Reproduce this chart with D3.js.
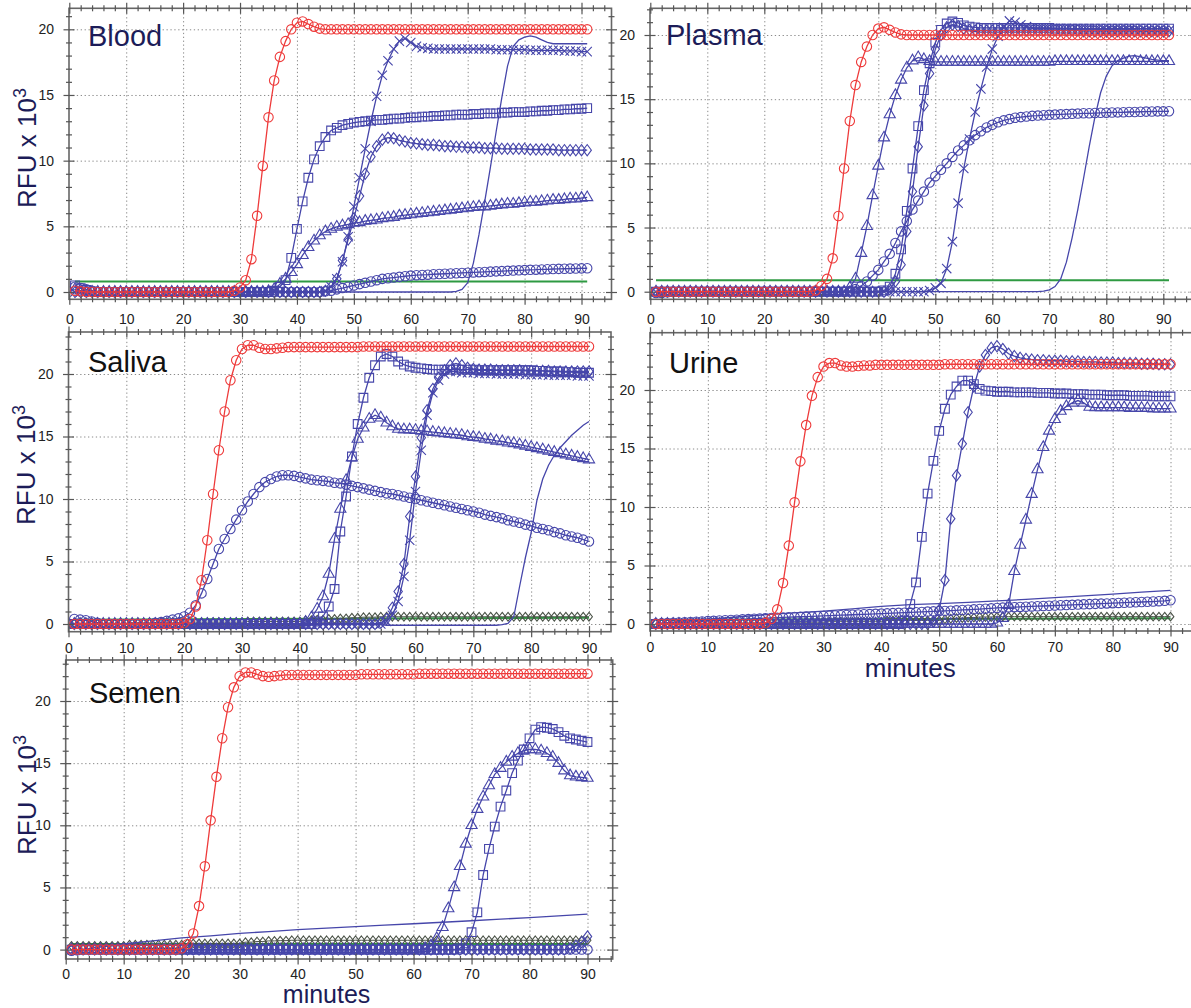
<!DOCTYPE html>
<html><head><meta charset="utf-8">
<script src="https://cdn.jsdelivr.net/npm/d3@7/dist/d3.min.js"></script>
<style>
body{margin:0;background:#fff;}
svg{display:block;font-family:"Liberation Sans",Arial,sans-serif;}
</style></head><body>
<svg id="c" width="1191" height="1008"></svg>
<script>
// ---------------- DATA (RFU x 10^3 at each minute) ----------------
const minutes91 = d3.range(1, 92);
const minutes90 = d3.range(1, 91);
const lineMinutes = [1,5,10,15,20,25,30,35,40,45,50,55,60,65,70,75,80,85,90];
const greenMinutes91 = [1, 91];
const greenMinutes90 = [1, 90];
const xTickValues = [0,10,20,30,40,50,60,70,80,90];
const yTickValues = [0,5,10,15,20];
const xGridValues = [10,20,30,40,50,60,70,80,90];
const yGridValues = [0,5,10,15,20];

// Blood
const bloodRed = [0.1,0.05,0,0,0,0,0,0,0,0, 0,0,0,0,0,0,0,0,0,0, 0,0,0,0,0,0,0,0,0.1,0.35,
 0.9,2.5,5.8,9.6,13.3,16.1,17.9,19.1,20.0,20.5, 20.6,20.4,20.2,20.05,20,20,20,20,20,20,
 20,20,20,20,20,20,20,20,20,20, 20,20,20,20,20,20,20,20,20,20, 20,20,20,20,20,20,20,20,20,20,
 20,20,20,20,20,20,20,20,20,20, 20];
const bloodSquare = [0.5,0.3,0.15,0.05,0,0,0,0,0,0, 0,0,0,0,0,0,0,0,0,0, 0,0,0,0,0,0,0,0,0,0,
 0,0,0,0,0,0.1,0.4,0.9,2.6,4.8, 6.9,8.7,10.1,11.1,11.8,12.3,12.5,12.7,12.8,12.9,
 12.95,13.0,13.05,13.1,13.1,13.15,13.2,13.2,13.25,13.3, 13.3,13.35,13.35,13.4,13.4,13.45,13.45,13.5,13.5,13.5,
 13.55,13.55,13.6,13.6,13.6,13.65,13.65,13.7,13.7,13.7, 13.75,13.75,13.8,13.8,13.85,13.85,13.9,13.9,13.95,13.95, 14.0];
const bloodTriangle = [0.2,0.1,0,0,0,0,0,0,0,0, 0,0,0,0,0,0,0,0,0,0, 0,0,0,0,0,0,0,0,0,0,
 0,0,0,0,0.05,0.2,0.6,1.0,1.5,2.1, 2.8,3.4,3.9,4.3,4.6,4.8,4.95,5.05,5.15,5.25,
 5.3,5.4,5.45,5.5,5.6,5.65,5.7,5.8,5.85,5.9, 5.95,6.0,6.05,6.1,6.15,6.2,6.25,6.3,6.35,6.4,
 6.45,6.5,6.5,6.55,6.6,6.65,6.7,6.7,6.75,6.8, 6.85,6.85,6.9,6.95,7.0,7.0,7.05,7.1,7.1,7.15, 7.2];
const bloodDiamond = [0,0,0,0,0,0,0,0,0,0, 0,0,0,0,0,0,0,0,0,0, 0,0,0,0,0,0,0,0,0,0, 0,0,0,0,0,0,0,0,0,0,
 0,0,0,0,0.1,0.4,1.0,2.4,4.0,5.6, 7.3,9.0,10.3,11.1,11.6,11.75,11.7,11.55,11.45,11.35,
 11.3,11.25,11.2,11.2,11.15,11.1,11.1,11.05,11.05,11.0, 11.0,11.0,10.95,10.95,10.95,10.9,10.9,10.9,10.9,10.9,
 10.85,10.85,10.85,10.85,10.85,10.8,10.8,10.8,10.8,10.8, 10.8];
const bloodCross = [0,0,0,0,0,0,0,0,0,0, 0,0,0,0,0,0,0,0,0,0, 0,0,0,0,0,0,0,0,0,0, 0,0,0,0,0,0,0,0,0,0,
 0,0,0,0,0.1,0.4,1.0,2.3,4.2,6.5, 8.7,10.9,13.0,14.9,16.5,17.6,18.5,19.1,19.3,19.0,
 18.7,18.6,18.55,18.5,18.5,18.5,18.5,18.5,18.5,18.5, 18.5,18.5,18.5,18.5,18.45,18.45,18.45,18.45,18.45,18.45,
 18.4,18.4,18.4,18.4,18.4,18.4,18.35,18.35,18.35,18.3, 18.3];
const bloodCircle = [0.4,0.3,0.2,0.1,0,0,0,0,0,0, 0,0,0,0,0,0,0,0,0,0, 0,0,0,0,0,0,0,0,0,0, 0,0,0,0,0,0,0,0,0,0,
 0,0,0,0,0.05,0.1,0.2,0.3,0.4,0.5, 0.6,0.7,0.8,0.9,1.0,1.05,1.1,1.15,1.2,1.25,
 1.28,1.3,1.32,1.35,1.37,1.39,1.41,1.43,1.45,1.47, 1.49,1.51,1.53,1.55,1.57,1.59,1.61,1.63,1.65,1.67,
 1.69,1.7,1.72,1.73,1.75,1.76,1.77,1.78,1.79,1.8, 1.81];
const bloodLine = [0,0,0,0,0,0,0,0,0,0, 0,0,0,0,0,0,0,0,0,0, 0,0,0,0,0,0,0,0,0,0, 0,0,0,0,0,0,0,0,0,0,
 0,0,0,0,0,0,0,0,0,0, 0,0,0,0,0,0,0,0,0,0, 0,0,0,0,0,0,0,0.05,0.2,0.7,
 2.2,4.4,6.9,9.5,12.2,14.8,17.2,18.7,19.2,19.4, 19.5,19.4,19.2,19.0,18.9,18.9,18.9,18.9,18.9,18.9, 18.9];
const bloodGreen = [0.8, 0.8];

// Plasma
const plasmaRed = [0,0,0,0,0,0,0,0,0,0, 0,0,0,0,0,0,0,0,0,0, 0,0,0,0,0,0,0,0,0.1,0.45,
 1.0,2.6,5.9,9.6,13.3,16.1,17.9,19.1,20.0,20.5, 20.6,20.4,20.2,20.05,20,20,20,20,20,20,
 20,20,20,20,20,20,20,20,20,20, 20,20,20,20,20,20,20,20,20,20, 20,20,20,20,20,20,20,20,20,20,
 20,20,20,20,20,20,20,20,20,20, 20];
const plasmaTriangle = [0,0,0,0,0,0,0,0,0,0, 0,0,0,0,0,0,0,0,0,0, 0,0,0,0,0,0,0,0,0,0,
 0,0,0,0,0.3,1.0,3.0,5.1,7.5,9.8, 12.0,13.8,15.3,16.5,17.45,18.0,18.25,18.1,17.95,17.9,
 17.9,17.9,17.9,17.9,17.9,17.9,17.9,17.9,17.9,17.9, 17.9,17.9,17.9,17.9,17.9,17.9,17.9,17.9,17.9,17.9,
 17.95,17.95,17.95,17.95,17.95,17.95,17.95,17.95,17.95,17.95, 17.95,17.95,17.95,17.95,17.95,17.95,17.95,17.95,17.95,17.95, 17.95];
const plasmaCircle = [-0.1,-0.1,-0.05,0,0,0,0,0,0,0, 0,0,0,0,0,0,0,0,0,0, 0,0,0,0,0,0,0,0,0,0,
 0,0,0,0,0.05,0.2,0.45,0.8,1.25,1.7, 2.35,2.95,3.8,4.7,5.5,6.4,7.1,7.8,8.5,9.0,
 9.5,10.0,10.5,11.0,11.4,11.8,12.2,12.5,12.8,13.0, 13.2,13.35,13.45,13.55,13.6,13.65,13.7,13.72,13.75,13.78,
 13.8,13.82,13.84,13.86,13.88,13.9,13.9,13.92,13.94,13.95, 13.96,13.97,13.98,14.0,14.0,14.02,14.03,14.04,14.05,14.05, 14.06];
const plasmaSquare = [0,0,0,0,0,0,0,0,0,0, 0,0,0,0,0,0,0,0,0,0, 0,0,0,0,0,0,0,0,0,0, 0,0,0,0,0,0,0,0,0,0,
 0.1,0.4,1.4,3.3,6.3,9.6,12.9,15.7,17.8,19.4, 20.4,20.9,21.05,20.95,20.75,20.65,20.6,20.55,20.55,20.55,
 20.55,20.55,20.55,20.55,20.55,20.55,20.55,20.55,20.55,20.55, 20.5,20.5,20.5,20.5,20.5,20.5,20.5,20.5,20.5,20.5,
 20.5,20.5,20.5,20.5,20.5,20.5,20.5,20.5,20.5,20.5, 20.5];
const plasmaDiamond = [0,0,0,0,0,0,0,0,0,0, 0,0,0,0,0,0,0,0,0,0, 0,0,0,0,0,0,0,0,0,0, 0,0,0,0,0,0,0,0,0,0,
 0,0.2,0.8,2.1,4.7,7.8,11.3,14.5,17.0,18.9, 20.0,20.6,20.8,20.7,20.5,20.4,20.35,20.35,20.35,20.35,
 20.35,20.35,20.35,20.35,20.35,20.35,20.35,20.35,20.35,20.35, 20.35,20.35,20.35,20.35,20.35,20.3,20.3,20.3,20.3,20.3,
 20.3,20.3,20.3,20.3,20.3,20.3,20.3,20.3,20.3,20.3, 20.3];
const plasmaCross = [0,0,0,0,0,0,0,0,0,0, 0,0,0,0,0,0,0,0,0,0, 0,0,0,0,0,0,0,0,0,0, 0,0,0,0,0,0,0,0,0,0,
 0,0,0,0,0,0,0,0,0.1,0.3, 0.65,1.8,3.9,6.9,9.6,11.9,14.0,15.8,17.5,18.9,
 19.9,20.6,21.1,21.0,20.8,20.65,20.55,20.5,20.5,20.5, 20.5,20.5,20.5,20.45,20.45,20.45,20.45,20.45,20.4,20.4,
 20.4,20.4,20.4,20.4,20.4,20.35,20.35,20.35,20.35,20.35, 20.35];
const plasmaLine = [0,0,0,0,0,0,0,0,0,0, 0,0,0,0,0,0,0,0,0,0, 0,0,0,0,0,0,0,0,0,0, 0,0,0,0,0,0,0,0,0,0,
 0,0,0,0,0,0,0,0,0,0, 0,0,0,0,0,0,0,0,0,0, 0,0,0,0,0,0,0,0,0.05,0.15,
 0.4,1.0,2.3,4.2,6.4,8.8,11.3,13.6,15.5,16.8, 17.6,18.0,18.2,18.35,18.4,18.3,18.2,18.1,18.05,18.0, 18.0];
const plasmaGreen = [0.9, 0.9];

// Saliva
const salivaRed = [0,0,0,0,0,0,0,0,0,0, 0,0,0,0,0,0,0,0,0,0.1, 0.4,1.4,3.5,6.7,10.4,13.9,17.0,19.5,21.1,22.0,
 22.3,22.3,22.1,22.0,22.0,22.05,22.1,22.15,22.15,22.15, 22.15,22.15,22.15,22.15,22.15,22.15,22.15,22.15,22.15,22.15,
 22.2,22.2,22.2,22.2,22.2,22.2,22.2,22.2,22.2,22.2, 22.2,22.2,22.2,22.2,22.2,22.2,22.2,22.2,22.2,22.2,
 22.2,22.2,22.2,22.2,22.2,22.2,22.2,22.2,22.2,22.2, 22.2,22.2,22.2,22.2,22.2,22.2,22.2,22.2,22.2,22.2];
const salivaCircle = [0.4,0.35,0.3,0.2,0.1,0,0,0,0,0, 0,0,0,0,0.1,0.15,0.25,0.35,0.45,0.6,
 0.9,1.5,2.45,3.6,4.8,6.0,6.8,7.6,8.35,9.1, 9.8,10.4,10.95,11.35,11.6,11.8,11.9,11.9,11.85,11.75,
 11.65,11.55,11.5,11.45,11.4,11.3,11.25,11.15,11.05,10.95, 10.85,10.75,10.65,10.55,10.45,10.4,10.3,10.2,10.1,10.0,
 9.9,9.8,9.7,9.6,9.5,9.4,9.3,9.2,9.1,9.0, 8.9,8.75,8.65,8.55,8.45,8.3,8.2,8.1,7.95,7.85,
 7.7,7.6,7.5,7.35,7.25,7.1,7.0,6.9,6.75,6.6];
const salivaSquare = [0,0,0,0,0,0,0,0,0,0, 0,0,0,0,0,0,0,0,0,0, 0,0,0,0,0,0,0,0,0,0, 0,0,0,0,0,0,0,0,0,0,
 0,0,0.2,0.6,1.4,2.8,7.4,10.2,13.4,16.0, 18.1,19.7,20.7,21.4,21.6,21.4,21.0,20.75,20.6,20.5,
 20.45,20.4,20.35,20.35,20.35,20.35,20.35,20.35,20.35,20.35, 20.3,20.3,20.3,20.3,20.3,20.3,20.3,20.3,20.3,20.3,
 20.25,20.25,20.2,20.2,20.2,20.15,20.15,20.1,20.1,20.1];
const salivaTriangle = [0,0,0,0,0,0,0,0,0,0, 0,0,0,0,0,0,0,0,0,0, 0,0,0,0,0,0,0,0,0,0, 0,0,0,0,0,0,0,0,0,0,
 0.15,0.5,1.2,2.2,4.0,6.8,9.2,11.5,13.3,14.8, 15.7,16.4,16.7,16.5,16.1,15.8,15.6,15.55,15.55,15.5,
 15.45,15.4,15.35,15.3,15.25,15.2,15.15,15.1,15.0,14.95, 14.9,14.8,14.75,14.65,14.6,14.5,14.45,14.35,14.25,14.15,
 14.05,13.95,13.85,13.75,13.65,13.55,13.45,13.35,13.25,13.15];
const salivaDiamond = [0,0,0,0,0,0,0,0,0,0, 0,0,0,0,0,0,0,0,0,0, 0,0,0,0,0,0,0,0,0,0, 0,0,0,0,0,0,0,0,0,0, 0,0,0,0,0,0,0,0,0,0,
 0,0,0,0.1,0.4,1.3,2.6,4.8,8.6,11.8, 14.9,17.1,18.8,19.7,20.3,20.7,20.85,20.7,20.5,20.4,
 20.35,20.35,20.35,20.3,20.3,20.3,20.3,20.3,20.25,20.25, 20.25,20.25,20.25,20.2,20.2,20.2,20.2,20.2,20.2,20.2];
const salivaCross = [0,0,0,0,0,0,0,0,0,0, 0,0,0,0,0,0,0,0,0,0, 0,0,0,0,0,0,0,0,0,0, 0,0,0,0,0,0,0,0,0,0, 0,0,0,0,0,0,0,0,0,0,
 0,0,0,0,0.2,0.7,1.8,3.8,6.7,10.6, 13.9,16.7,18.5,19.5,20.0,20.2,20.2,20.1,20.1,20.1,
 20.05,20.05,20.05,20.0,20.0,20.0,20.0,20.0,19.95,19.95, 19.95,19.95,19.9,19.9,19.9,19.9,19.9,19.85,19.85,19.85];
const salivaLine = [0,0,0,0,0,0,0,0,0,0, 0,0,0,0,0,0,0,0,0,0, 0,0,0,0,0,0,0,0,0,0, 0,0,0,0,0,0,0,0,0,0, 0,0,0,0,0,0,0,0,0,0,
 -0.05,-0.05,-0.05,-0.05,-0.1,-0.1,-0.1,-0.1,-0.1,-0.1, -0.1,-0.1,-0.1,-0.1,-0.1,-0.1,-0.1,-0.1,-0.1,-0.1,
 -0.1,-0.1,-0.1,-0.1,-0.05,0.05,0.6,3.0,5.3,7.3, 9.9,11.6,12.7,13.5,14.1,14.6,15.1,15.5,15.9,16.2];
const salivaDark = [0.05,0.05,0.05,0.05,0.05,0.05,0.05,0.05,0.05,0.05, 0.1,0.1,0.1,0.1,0.1,0.1,0.1,0.1,0.1,0.1,
 0.15,0.15,0.15,0.15,0.15,0.15,0.15,0.15,0.15,0.15, 0.2,0.2,0.2,0.2,0.2,0.2,0.2,0.2,0.2,0.2,
 0.3,0.3,0.35,0.35,0.4,0.4,0.45,0.45,0.5,0.5, 0.55,0.55,0.55,0.58,0.58,0.58,0.58,0.58,0.58,0.58,
 0.58,0.58,0.58,0.58,0.58,0.58,0.58,0.58,0.58,0.58, 0.58,0.58,0.58,0.58,0.58,0.58,0.58,0.58,0.58,0.58,
 0.58,0.58,0.58,0.58,0.58,0.58,0.58,0.58,0.58,0.58];
const salivaGreen = [0.35, 0.5];

// Urine
const urineRed = [0,0,0,0,0,0,0,0,0,0, 0,0,0,0,0,0,0,0,0,0.1, 0.45,1.25,3.5,6.7,10.4,13.9,17.0,19.5,21.1,22.0,
 22.3,22.3,22.1,22.0,22.0,22.05,22.1,22.1,22.15,22.15, 22.15,22.15,22.15,22.15,22.15,22.15,22.15,22.15,22.15,22.15,
 22.2,22.2,22.2,22.2,22.2,22.2,22.2,22.2,22.2,22.2, 22.2,22.2,22.2,22.2,22.2,22.2,22.2,22.2,22.2,22.2,
 22.2,22.2,22.2,22.2,22.2,22.2,22.2,22.2,22.2,22.2, 22.2,22.2,22.2,22.2,22.2,22.2,22.2,22.2,22.2,22.2];
const urineSquare = [0,0,0,0,0,0,0,0,0,0, 0,0,0,0,0,0,0,0,0,0, 0,0,0,0,0,0,0,0,0,0, 0,0,0,0,0,0,0,0,0,0,
 0,0,0,0.3,1.7,3.55,7.45,11.15,13.95,16.5, 18.4,19.6,20.3,20.8,20.8,20.5,20.1,19.95,19.9,19.85,
 19.85,19.85,19.8,19.8,19.8,19.8,19.75,19.75,19.75,19.7, 19.7,19.7,19.65,19.65,19.65,19.6,19.6,19.6,19.55,19.55,
 19.55,19.55,19.5,19.5,19.5,19.5,19.45,19.45,19.45,19.45];
const urineDiamond = [0,0,0,0,0,0,0,0,0,0, 0,0,0,0,0,0,0,0,0,0, 0,0,0,0,0,0,0,0,0,0, 0,0,0,0,0,0,0,0,0,0,
 0,0,0,0,0,0,0,0,0.2,1.2, 3.75,9.0,12.7,15.4,18.1,20.3,22.0,23.0,23.6,23.75,
 23.5,23.1,22.9,22.75,22.65,22.6,22.55,22.55,22.5,22.5, 22.5,22.45,22.45,22.45,22.4,22.4,22.4,22.35,22.35,22.35,
 22.3,22.3,22.3,22.3,22.25,22.25,22.25,22.2,22.2,22.2];
const urineTriangle = [0,0,0,0,0,0,0,0,0,0, 0,0,0,0,0,0,0,0,0,0, 0,0,0,0,0,0,0,0,0,0, 0,0,0,0,0,0,0,0,0,0, 0,0,0,0,0,0,0,0,0,0,
 0,0,0,0,0,0,0,0,0,0.1, 0.5,1.6,4.5,6.75,8.9,11.1,13.2,15.1,16.5,17.5,
 18.2,18.6,18.9,19.1,18.9,18.55,18.5,18.5,18.5,18.5, 18.5,18.5,18.45,18.45,18.45,18.45,18.4,18.4,18.4,18.4];
const urineCircle = [0.05,0.07,0.09,0.11,0.13,0.15,0.17,0.2,0.22,0.25, 0.27,0.3,0.32,0.35,0.37,0.4,0.42,0.45,0.47,0.5,
 0.52,0.54,0.56,0.58,0.6,0.62,0.63,0.65,0.67,0.69, 0.71,0.73,0.75,0.77,0.79,0.81,0.83,0.85,0.87,0.89,
 0.91,0.93,0.95,0.97,0.99,1.01,1.03,1.06,1.08,1.1, 1.12,1.14,1.17,1.2,1.22,1.25,1.28,1.31,1.34,1.37,
 1.4,1.42,1.44,1.46,1.48,1.5,1.52,1.54,1.56,1.58, 1.6,1.62,1.64,1.66,1.68,1.7,1.72,1.74,1.76,1.78,
 1.8,1.82,1.84,1.86,1.88,1.9,1.92,1.95,1.98,2.03];
const urineLine = [0,0.2,0.4,0.6,0.8,0.95,1.1,1.3,1.5,1.65,1.75,1.85,1.97,2.1,2.25,2.4,2.55,2.72,2.88];
const urineDark = [0.05,0.05,0.05,0.05,0.05,0.05,0.05,0.05,0.05,0.05, 0.1,0.1,0.1,0.1,0.1,0.1,0.1,0.1,0.1,0.1,
 0.15,0.15,0.15,0.15,0.15,0.15,0.15,0.15,0.15,0.15, 0.2,0.2,0.2,0.2,0.2,0.2,0.2,0.2,0.2,0.2,
 0.3,0.3,0.3,0.3,0.3,0.3,0.3,0.3,0.3,0.3, 0.4,0.45,0.5,0.5,0.55,0.55,0.6,0.6,0.6,0.62,
 0.63,0.63,0.63,0.63,0.63,0.63,0.63,0.63,0.63,0.63, 0.63,0.63,0.63,0.63,0.63,0.63,0.63,0.63,0.63,0.63,
 0.63,0.63,0.63,0.63,0.63,0.63,0.63,0.63,0.63,0.63];
const urineGreen = [0.35, 0.5];

// Semen
const semenRed = [0,0,0,0,0,0,0,0,0,0, 0,0,0,0,0,0,0,0,0,0.1, 0.43,1.3,3.5,6.7,10.4,13.9,17.0,19.5,21.1,22.0,
 22.3,22.3,22.15,22.0,21.95,22.0,22.05,22.1,22.1,22.1, 22.1,22.1,22.1,22.1,22.1,22.1,22.1,22.1,22.1,22.1,
 22.15,22.15,22.15,22.15,22.15,22.15,22.15,22.15,22.15,22.15, 22.2,22.2,22.2,22.2,22.2,22.2,22.2,22.2,22.2,22.2,
 22.2,22.2,22.2,22.2,22.2,22.2,22.2,22.2,22.2,22.2, 22.2,22.2,22.2,22.2,22.2,22.2,22.2,22.2,22.2,22.2];
const semenTriangle = [0,0,0,0,0,0,0,0,0,0, 0,0,0,0,0,0,0,0,0,0, 0,0,0,0,0,0,0,0,0,0, 0,0,0,0,0,0,0,0,0,0, 0,0,0,0,0,0,0,0,0,0, 0,0,0,0,0,0,0,0,0,0,
 0,0.1,0.3,0.9,1.8,3.3,5.0,6.7,8.5,10.0, 11.3,12.3,13.2,14.1,14.6,15.1,15.5,15.8,16.0,16.1,
 16.1,16.0,15.8,15.5,15.0,14.4,14.0,13.9,13.85,13.8];
const semenSquare = [0,0,0,0,0,0,0,0,0,0, 0,0,0,0,0,0,0,0,0,0, 0,0,0,0,0,0,0,0,0,0, 0,0,0,0,0,0,0,0,0,0, 0,0,0,0,0,0,0,0,0,0, 0,0,0,0,0,0,0,0,0,0,
 0,0,0,0,0,0,0,0.1,0.5,1.4, 3.0,6.0,8.1,9.9,11.5,12.8,14.2,15.2,16.1,17.0,
 17.7,17.9,17.85,17.75,17.5,17.2,17.0,16.9,16.8,16.7];
const semenCircle = [-0.1,-0.05,0,0,0,0,0,0,0,0, 0,0,0,0,0,0,0,0,0,0, 0,0,0,0,0,0,0,0,0,0, 0,0,0,0,0,0,0,0,0,0, 0,0,0,0,0,0,0,0,0,0,
 0,0,0,0,0,0,0,0,0,0, 0,0,0,0,0,0,0,0,0,0, 0,0,0,0,0,0,0,0,0,0, 0,0,0,0,0,0,0,0,0,0];
const semenDiamond = [0,0,0,0,0,0,0,0,0,0, 0,0,0,0,0,0,0,0,0,0, 0,0,0,0,0,0,0,0,0,0, 0,0,0,0,0,0,0,0,0,0, 0,0,0,0,0,0,0,0,0,0,
 0,0,0,0,0,0,0,0,0,0, 0,0,0,0,0,0,0,0,0,0, 0,0,0,0,0,0,0,0,0,0, 0,0,0,0,0,0,0.1,0.3,0.6,1.05];
const semenLine = [-0.2,0.15,0.45,0.7,0.95,1.1,1.3,1.45,1.6,1.72,1.85,1.97,2.08,2.2,2.32,2.45,2.58,2.72,2.85];
const semenDark = [0.3,0.3,0.3,0.3,0.3,0.3,0.3,0.3,0.3,0.3, 0.4,0.4,0.4,0.4,0.4,0.4,0.4,0.4,0.4,0.4,
 0.5,0.5,0.5,0.5,0.5,0.5,0.5,0.5,0.5,0.5, 0.6,0.6,0.65,0.65,0.7,0.7,0.72,0.72,0.75,0.75,
 0.75,0.75,0.75,0.75,0.75,0.75,0.75,0.75,0.75,0.75, 0.75,0.75,0.75,0.75,0.75,0.75,0.75,0.75,0.75,0.75,
 0.75,0.75,0.75,0.75,0.75,0.75,0.75,0.75,0.75,0.75, 0.75,0.75,0.75,0.75,0.75,0.75,0.75,0.75,0.75,0.75,
 0.75,0.75,0.75,0.75,0.75,0.75,0.75,0.75,0.75,0.75];
const semenGreen = [0.45, 0.45];

// ---------------- STYLE / LAYOUT ----------------
const RED = '#ee3b3b', BLUE = '#4646aa', GREEN = '#2e9a42', DARK = '#4a5247', NAVY = '#1c1c58';
const diamondSym = { draw(ctx) { ctx.moveTo(0,-5.6); ctx.lineTo(4.2,0); ctx.lineTo(0,5.6); ctx.lineTo(-4.2,0); ctx.closePath(); } };
const smallDiamondSym = { draw(ctx) { ctx.moveTo(0,-4.3); ctx.lineTo(3.4,0); ctx.lineTo(0,4.3); ctx.lineTo(-3.4,0); ctx.closePath(); } };
const markers = {
  circle: d3.symbol().type(d3.symbolCircle).size(70)(),
  square: d3.symbol().type(d3.symbolSquare).size(76)(),
  triangle: d3.symbol().type(d3.symbolTriangle).size(54)(),
  diamond: d3.symbol().type(diamondSym)(),
  dark: d3.symbol().type(smallDiamondSym)(),
  cross: d3.symbol().type(d3.symbolTimes).size(58)()
};

const svg = d3.select('#c');
let clipId = 0;

function drawPanel(L, series) {
  const x = d3.scaleLinear().domain([0, 90]).range([L.x0, L.x90]);
  const y = d3.scaleLinear().domain([0, 20]).range([L.y0, L.y20]);
  const xMax = x.invert(L.right), yLo = y.invert(L.bottom), yHi = y.invert(L.top);
  const xMajor = xTickValues.filter(v => v <= xMax);
  const xMinor = d3.range(2, xMax, 2).filter(v => v % 10 !== 0);
  const yMajor = yTickValues.filter(v => v <= yHi);
  const yMinor = d3.range(Math.ceil(yLo), yHi, 1).filter(v => v % 5 !== 0);
  const g = svg.append('g');

  // grid
  const grid = g.append('g');
  grid.append('g').attr('transform', `translate(0,${L.bottom})`)
    .call(d3.axisBottom(x).tickValues(xGridValues).tickSize(-(L.bottom - L.top)).tickFormat(''));
  grid.append('g').attr('transform', `translate(${L.left},0)`)
    .call(d3.axisLeft(y).tickValues(yGridValues).tickSize(-(L.right - L.left)).tickFormat(''));
  grid.selectAll('.domain').remove();
  grid.selectAll('line').attr('stroke', '#8a8a8a').attr('stroke-width', 1).attr('stroke-dasharray', '1.3,2.6');

  // data
  const id = 'clip' + (clipId++);
  g.append('clipPath').attr('id', id).append('rect')
    .attr('x', L.left).attr('y', L.top).attr('width', L.right - L.left).attr('height', L.bottom - L.top);
  const data = g.append('g').attr('clip-path', `url(#${id})`);
  series.forEach(s => {
    const pts = s.xs.map((m, i) => [m, s.ys[i]]);
    const line = d3.line().x(d => x(d[0])).y(d => y(d[1]));
    data.append('path').attr('d', line(pts)).attr('fill', 'none')
      .attr('stroke', s.color).attr('stroke-width', s.width || 1.3);
    if (s.marker) {
      data.append('g').selectAll('path').data(pts).join('path')
        .attr('d', markers[s.marker])
        .attr('transform', d => `translate(${x(d[0])},${y(d[1])})`)
        .attr('fill', 'none').attr('stroke', s.markerColor || s.color).attr('stroke-width', 1.1);
    }
  });

  // frame
  g.append('rect').attr('x', L.left).attr('y', L.top).attr('width', L.right - L.left).attr('height', L.bottom - L.top)
    .attr('fill', 'none').attr('stroke', '#666').attr('stroke-width', 1.6);

  // ticks
  function ticks(axisFn, tr, scale, values, size, labels, pad) {
    const a = axisFn(scale).tickValues(values).tickSize(size).tickPadding(pad || 3);
    if (!labels) a.tickFormat('');
    const s = g.append('g').attr('transform', tr).call(a);
    s.select('.domain').remove();
    s.selectAll('line').attr('stroke', '#555').attr('stroke-width', 1.2);
    s.attr('font-size', 14).attr('font-family', '"Liberation Sans", Arial, sans-serif');
    s.selectAll('text').attr('fill', '#222');
  }
  const B = `translate(0,${L.bottom})`, T = `translate(0,${L.top})`;
  const Lf = `translate(${L.left},0)`, R = `translate(${L.right},0)`;
  ticks(d3.axisBottom, B, x, xMajor, 5.5, true, L.padX);
  ticks(d3.axisTop, B, x, xMajor, 5.5, false);
  ticks(d3.axisBottom, B, x, xMinor, 3, false);
  ticks(d3.axisTop, B, x, xMinor, 3, false);
  ticks(d3.axisTop, T, x, xMajor, 5.5, false);
  ticks(d3.axisBottom, T, x, xMajor, 5.5, false);
  ticks(d3.axisTop, T, x, xMinor, 3, false);
  ticks(d3.axisBottom, T, x, xMinor, 3, false);
  ticks(d3.axisLeft, Lf, y, yMajor, 5.5, true, 9.5);
  ticks(d3.axisRight, Lf, y, yMajor, 5.5, false);
  ticks(d3.axisLeft, Lf, y, yMinor, 3, false);
  ticks(d3.axisRight, Lf, y, yMinor, 3, false);
  ticks(d3.axisLeft, R, y, yMajor, 5.5, false);
  ticks(d3.axisRight, R, y, yMajor, 5.5, false);
  ticks(d3.axisLeft, R, y, yMinor, 3, false);
  ticks(d3.axisRight, R, y, yMinor, 3, false);

  // title
  g.append('text').attr('x', L.titleX).attr('y', L.titleY).attr('font-size', 29)
    .attr('fill', L.titleColor).text(L.title);
  if (L.yLabel) {
    const t = g.append('text').attr('transform', `translate(${L.yLabelX},${L.yLabelY}) rotate(-90)`)
      .attr('text-anchor', 'middle').attr('font-size', 26).attr('fill', NAVY);
    t.append('tspan').text('RFU x 10');
    t.append('tspan').attr('dy', -10).attr('font-size', 18).text('3');
  }
  if (L.xLabel) {
    g.append('text').attr('x', x(45)).attr('y', L.xLabelY).attr('text-anchor', 'middle')
      .attr('font-size', L.xLabelSize).attr('fill', NAVY).text('minutes');
  }
}

function S(xs, ys, color, marker, extra) { return Object.assign({xs, ys, color, marker}, extra || {}); }

drawPanel({left:69, right:611.5, top:8.3, bottom:299.3, x0:69.3, x90:581.5, y0:292, y20:29.3, padX:9,
  title:'Blood', titleX:88, titleY:46, titleColor:NAVY, yLabel:true, yLabelX:36, yLabelY:148}, [
  S(greenMinutes91, bloodGreen, GREEN, null, {width:2}),
  S(minutes91, bloodCircle, BLUE, 'circle'),
  S(minutes91, bloodLine, BLUE, null),
  S(minutes91, bloodTriangle, BLUE, 'triangle'),
  S(minutes91, bloodSquare, BLUE, 'square'),
  S(minutes91, bloodDiamond, BLUE, 'diamond'),
  S(minutes91, bloodCross, BLUE, 'cross'),
  S(minutes91, bloodRed, RED, 'circle')
]);

drawPanel({left:650, right:1196, top:8.3, bottom:299.3, x0:650.3, x90:1163.3, y0:291.7, y20:35, padX:9,
  title:'Plasma', titleX:666, titleY:45, titleColor:NAVY}, [
  S(greenMinutes91, plasmaGreen, GREEN, null, {width:2}),
  S(minutes91, plasmaCircle, BLUE, 'circle'),
  S(minutes91, plasmaLine, BLUE, null),
  S(minutes91, plasmaTriangle, BLUE, 'triangle'),
  S(minutes91, plasmaSquare, BLUE, 'square'),
  S(minutes91, plasmaDiamond, BLUE, 'diamond'),
  S(minutes91, plasmaCross, BLUE, 'cross'),
  S(minutes91, plasmaRed, RED, 'circle')
]);

drawPanel({left:68.5, right:611, top:332, bottom:631.7, x0:68.5, x90:589, y0:624, y20:374, padX:6,
  title:'Saliva', titleX:88, titleY:372, titleColor:'#111', yLabel:true, yLabelX:35, yLabelY:465}, [
  S(greenMinutes90, salivaGreen, GREEN, null, {width:2}),
  S(minutes90, salivaDark, DARK, 'dark', {width:1}),
  S(minutes90, salivaLine, BLUE, null),
  S(minutes90, salivaCircle, BLUE, 'circle'),
  S(minutes90, salivaTriangle, BLUE, 'triangle'),
  S(minutes90, salivaSquare, BLUE, 'square'),
  S(minutes90, salivaDiamond, BLUE, 'diamond'),
  S(minutes90, salivaCross, BLUE, 'cross'),
  S(minutes90, salivaRed, RED, 'circle')
]);

drawPanel({left:650, right:1196, top:332.7, bottom:631, x0:650, x90:1170.5, y0:624, y20:390, padX:6,
  title:'Urine', titleX:669, titleY:373, titleColor:'#111', xLabel:true, xLabelY:677, xLabelSize:26}, [
  S(greenMinutes90, urineGreen, GREEN, null, {width:2}),
  S(minutes90, urineDark, DARK, 'dark', {width:1}),
  S(lineMinutes, urineLine, BLUE, null),
  S(minutes90, urineCircle, BLUE, 'circle'),
  S(minutes90, urineTriangle, BLUE, 'triangle'),
  S(minutes90, urineSquare, BLUE, 'square'),
  S(minutes90, urineDiamond, BLUE, 'diamond'),
  S(minutes90, urineRed, RED, 'circle')
]);

drawPanel({left:65.7, right:612.7, top:660, bottom:959, x0:65.7, x90:587.5, y0:949.6, y20:701, padX:5,
  title:'Semen', titleX:89, titleY:703, titleColor:'#111', yLabel:true, yLabelX:36, yLabelY:795,
  xLabel:true, xLabelY:1003, xLabelSize:25}, [
  S(greenMinutes90, semenGreen, GREEN, null, {width:2}),
  S(minutes90, semenDark, DARK, 'dark', {width:1}),
  S(lineMinutes, semenLine, BLUE, null),
  S(minutes90, semenCircle, BLUE, 'circle'),
  S(minutes90, semenDiamond, BLUE, 'diamond'),
  S(minutes90, semenTriangle, BLUE, 'triangle'),
  S(minutes90, semenSquare, BLUE, 'square'),
  S(minutes90, semenRed, RED, 'circle')
]);
</script>
</body></html>
